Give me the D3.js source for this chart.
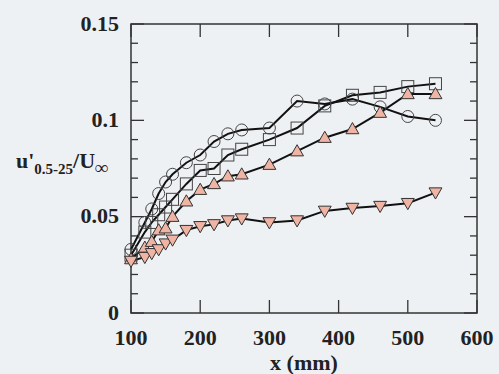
<!DOCTYPE html>
<html>
<head>
<meta charset="utf-8">
<script src="https://cdn.jsdelivr.net/npm/d3@7"></script>
<style>
  body { margin: 0; background: #eef1f4; }
  text { font-family: "Liberation Serif", "Times New Roman", serif; fill: #222; font-weight: bold; }
</style>
</head>
<body>
<div id="chart"></div>
<script>
// streamwise stations (mm)
const xs = [100, 120, 130, 140, 150, 160, 180, 200, 220, 240, 260, 300, 340, 380, 420, 460, 500, 540];

const circles   = [0.033, 0.047, 0.054, 0.062, 0.068, 0.072, 0.078, 0.082, 0.089, 0.093, 0.095, 0.096, 0.110, 0.1085, 0.111, 0.107, 0.102, 0.100];
const squares   = [0.030, 0.042, 0.047, 0.051, 0.055, 0.059, 0.067, 0.074, 0.075, 0.082, 0.085, 0.090, 0.096, 0.1075, 0.113, 0.1145, 0.1175, 0.119];
const upTris    = [0.028, 0.034, 0.037, 0.043, 0.044, 0.050, 0.058, 0.064, 0.067, 0.071, 0.072, 0.077, 0.084, 0.091, 0.0955, 0.104, 0.1137, 0.1137];
const downTris  = [0.027, 0.029, 0.031, 0.033, 0.036, 0.038, 0.043, 0.045, 0.046, 0.048, 0.049, 0.047, 0.048, 0.053, 0.0545, 0.0555, 0.057, 0.0625];

const xTicks = [100, 200, 300, 400, 500, 600];
const yTicks = [0, 0.05, 0.1, 0.15];
const yMinor = d3.range(0, 0.1501, 0.01);

const W = 499, H = 374;
const margin = {top: 24, right: 22, bottom: 61, left: 131};
const width = W - margin.left - margin.right,
      height = H - margin.top - margin.bottom;

const svg = d3.select("#chart").append("svg")
    .attr("width", W).attr("height", H);
svg.append("rect").attr("width", W).attr("height", H).attr("fill", "#eef1f4");

const g = svg.append("g")
    .attr("transform", "translate(" + margin.left + "," + margin.top + ")");

const x = d3.scaleLinear().domain([100, 600]).range([0, width]);
const y = d3.scaleLinear().domain([0, 0.15]).range([height, 0]);

const frameColor = "#333";

// y ticks (major + minor), both sides
yMinor.forEach(function(v) {
    const major = yTicks.some(t => Math.abs(t - v) < 1e-6);
    const len = major ? 13 : 7;
    g.append("line").attr("x1", 0).attr("x2", len).attr("y1", y(v)).attr("y2", y(v))
        .attr("stroke", frameColor).attr("stroke-width", 1.3);
    g.append("line").attr("x1", width).attr("x2", width - len).attr("y1", y(v)).attr("y2", y(v))
        .attr("stroke", frameColor).attr("stroke-width", 1.3);
});

// x ticks, bottom and top
xTicks.forEach(function(v) {
    g.append("line").attr("x1", x(v)).attr("x2", x(v)).attr("y1", height).attr("y2", height - 13)
        .attr("stroke", frameColor).attr("stroke-width", 1.3);
    g.append("line").attr("x1", x(v)).attr("x2", x(v)).attr("y1", 0).attr("y2", 13)
        .attr("stroke", frameColor).attr("stroke-width", 1.3);
});

g.append("rect").attr("width", width).attr("height", height)
    .attr("fill", "none").attr("stroke", frameColor).attr("stroke-width", 1.5);

// tick labels
g.selectAll(".ylab").data(yTicks).enter().append("text")
    .attr("x", -12).attr("y", d => y(d)).attr("dy", "0.3em")
    .attr("text-anchor", "end").style("font-size", "22px")
    .text(d => d === 0 ? "0" : d3.format("")(+d.toFixed(2)));

g.selectAll(".xlab").data(xTicks).enter().append("text")
    .attr("x", d => x(d)).attr("y", height + 32)
    .attr("text-anchor", "middle").style("font-size", "22px")
    .text(d => d);

// axis titles
g.append("text").attr("x", width / 2).attr("y", height + 57)
    .attr("text-anchor", "middle").style("font-size", "22px")
    .text("x (mm)");

const yt = svg.append("text").attr("x", 16).attr("y", 168).style("font-size", "22px");
yt.append("tspan").text("u'");
yt.append("tspan").attr("dy", 6).style("font-size", "15px").text("0.5-25");
yt.append("tspan").attr("dy", -6).text("/U");
yt.append("tspan").attr("dy", 6).style("font-size", "19px").text("∞");

// series
const series = [
    {name: "circle", values: circles},
    {name: "square", values: squares},
    {name: "up", values: upTris},
    {name: "down", values: downTris}
];

const line = d3.line().x(d => x(d[0])).y(d => y(d[1]));

series.forEach(function(s) {
    const pts = xs.map((xv, i) => [xv, s.values[i]]);
    g.append("path").datum(pts)
        .attr("fill", "none").attr("stroke", "#111").attr("stroke-width", 2)
        .attr("d", line);
});

const tri = d3.symbol().type(d3.symbolTriangle).size(72);

series.forEach(function(s) {
    const pts = xs.map((xv, i) => [xv, s.values[i]]);
    const sel = g.append("g").selectAll("path").data(pts).enter();
    if (s.name === "circle") {
        sel.append("circle").attr("cx", d => x(d[0])).attr("cy", d => y(d[1])).attr("r", 6)
            .attr("fill", "none").attr("stroke", "#444").attr("stroke-width", 1);
    } else if (s.name === "square") {
        sel.append("rect").attr("x", d => x(d[0]) - 6).attr("y", d => y(d[1]) - 6)
            .attr("width", 12).attr("height", 12)
            .attr("fill", "none").attr("stroke", "#444").attr("stroke-width", 1);
    } else if (s.name === "up") {
        sel.append("path").attr("d", tri)
            .attr("transform", d => "translate(" + x(d[0]) + "," + (y(d[1]) + 1) + ")")
            .attr("fill", "#f0b4a4").attr("stroke", "#333").attr("stroke-width", 1);
    } else {
        sel.append("path").attr("d", tri)
            .attr("transform", d => "translate(" + x(d[0]) + "," + (y(d[1]) - 1) + ") rotate(180)")
            .attr("fill", "#f0b4a4").attr("stroke", "#333").attr("stroke-width", 1);
    }
});
</script>
</body>
</html>
